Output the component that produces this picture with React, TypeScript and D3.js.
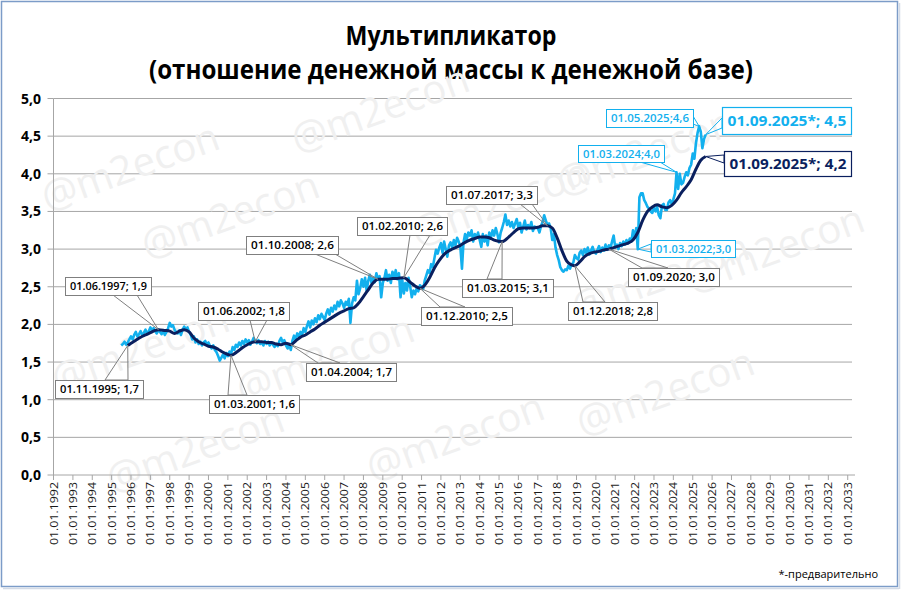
import React from "react";
import * as d3 from "d3";

// ---------- DATA ----------
const titleLines = ["Мультипликатор", "(отношение денежной массы к денежной базе)"];
const footnote = "*-предварительно";
const yTickValues = [0, 0.5, 1, 1.5, 2, 2.5, 3, 3.5, 4, 4.5, 5];
const xTickYears = d3.range(1992, 2034);
const watermarkText = "@m2econ";

// monthly multiplier (light blue), starting 1995-07
const lightStart = "1995-07";
const lightValues = [
  1.72, 1.74, 1.77, 1.73, 1.76, 1.80,
  1.84, 1.80, 1.86, 1.90, 1.84, 1.87, 1.91, 1.86, 1.89, 1.93, 1.88, 1.91,
  1.96, 1.92, 1.95, 1.91, 1.88, 1.93, 1.90, 1.87, 1.91, 1.86, 1.90, 1.95,
  2.02, 1.97, 1.99, 1.93, 1.90, 1.88, 1.92, 1.86, 1.93, 1.97, 1.93, 1.96,
  1.90, 1.86, 1.80, 1.84, 1.76, 1.80, 1.74, 1.77, 1.72, 1.76, 1.78, 1.73,
  1.76, 1.71, 1.68, 1.72, 1.66, 1.63, 1.58, 1.52, 1.56, 1.60, 1.55, 1.62,
  1.58, 1.64, 1.60, 1.70, 1.66, 1.73, 1.70, 1.76, 1.72, 1.78, 1.74, 1.80,
  1.76, 1.79, 1.73, 1.77, 1.82, 1.78, 1.75, 1.79, 1.74, 1.76, 1.72, 1.78,
  1.74, 1.77, 1.72, 1.76, 1.73, 1.70, 1.74, 1.71, 1.78, 1.82, 1.76, 1.79,
  1.72, 1.68, 1.74, 1.66, 1.78, 1.85, 1.80, 1.88, 1.84, 1.90, 1.86, 1.95,
  1.90, 1.98, 2.04, 1.96, 2.05, 2.00, 2.08, 2.03, 2.12, 2.07, 2.14, 2.10,
  2.06, 2.15, 2.20, 2.13, 2.22, 2.17, 2.25, 2.20, 2.30, 2.24, 2.32, 2.28,
  2.22, 2.30, 2.26, 2.34, 2.02, 2.28, 2.36, 2.32, 2.58, 2.40, 2.48, 2.60,
  2.50, 2.62, 2.45, 2.58, 2.66, 2.55, 2.62, 2.56, 2.68, 2.60, 2.64, 2.36,
  2.55, 2.62, 2.72, 2.58, 2.66, 2.55, 2.70, 2.62, 2.72, 2.60, 2.68, 2.36,
  2.60, 2.41, 2.55, 2.45, 2.62, 2.50, 2.36, 2.45, 2.40, 2.48, 2.44, 2.52,
  2.50, 2.47, 2.58, 2.65, 2.72, 2.68, 2.80, 2.76, 2.88, 2.99, 2.94, 3.02,
  3.08, 2.95, 3.10, 3.00, 2.90, 3.05, 3.09, 3.02, 3.12, 3.05, 3.15, 3.10,
  3.04, 2.74, 3.08, 3.20, 3.12, 3.22, 3.18, 3.25, 3.10, 3.20, 3.15, 3.22,
  3.12, 3.03, 3.20, 3.10, 3.18, 3.05, 3.22, 3.15, 3.25, 3.18, 3.28, 3.20,
  3.09, 3.22, 3.28, 3.36, 3.46, 3.32, 3.38, 3.30, 3.36, 3.28, 3.34, 3.40,
  3.28, 3.35, 3.22, 3.30, 3.38, 3.26, 3.32, 3.28, 3.36, 3.24, 3.30, 3.28,
  3.28, 3.22, 3.30, 3.36, 3.45, 3.38, 3.32, 3.34, 3.28, 3.12, 3.20, 3.02,
  2.92, 2.85, 2.76, 2.72, 2.70, 2.73, 2.72, 2.78, 2.74, 2.80, 2.82, 2.92,
  2.88, 2.86, 2.95, 2.98, 2.92, 3.00, 2.95, 3.02, 2.93, 2.98, 3.03, 2.96,
  2.94, 2.99, 3.04, 2.96, 3.02, 2.98, 3.06, 2.99, 3.05, 3.01, 3.10, 3.18,
  3.02, 3.06, 3.00, 3.08, 3.04, 3.10, 3.06, 3.12, 3.08, 3.14, 3.10, 3.25,
  3.15, 3.28, 3.00, 3.69, 3.74, 3.74, 3.65, 3.61, 3.56, 3.54, 3.50, 3.48,
  3.55, 3.50, 3.56, 3.45, 3.41, 3.58, 3.60, 3.52, 3.52, 3.62, 3.65, 3.60,
  3.66, 3.74, 4.02, 3.80, 4.00, 3.86, 3.88, 3.96, 4.02, 3.98, 4.08, 4.12,
  4.27, 4.20, 4.40, 4.54, 4.63, 4.56, 4.34, 4.46, 4.52,
];

// smoothed multiplier (dark navy)
const darkDates = [
  "1995-11", "1996-01", "1996-04", "1996-07", "1996-10", "1997-01", "1997-04", "1997-06", "1997-10",
  "1998-01", "1998-04", "1998-07", "1998-10", "1999-01", "1999-04", "1999-07", "1999-10",
  "2000-01", "2000-04", "2000-07", "2000-10", "2001-01", "2001-03", "2001-07", "2001-10",
  "2002-01", "2002-06", "2002-10", "2003-01", "2003-04", "2003-07", "2003-10",
  "2004-01", "2004-04", "2004-07", "2004-10", "2005-01", "2005-04", "2005-07", "2005-10",
  "2006-01", "2006-04", "2006-07", "2006-10", "2007-01", "2007-04", "2007-07", "2007-10",
  "2008-01", "2008-04", "2008-07", "2008-10", "2009-01", "2009-04", "2009-07", "2009-10",
  "2010-02", "2010-06", "2010-09", "2010-12", "2011-03", "2011-06", "2011-09", "2011-12",
  "2012-03", "2012-07", "2012-10", "2013-01", "2013-04", "2013-07", "2013-10",
  "2014-01", "2014-04", "2014-07", "2014-10", "2015-03", "2015-07", "2015-10",
  "2016-01", "2016-04", "2016-07", "2016-10", "2017-01", "2017-04", "2017-07", "2017-10",
  "2018-01", "2018-04", "2018-07", "2018-10", "2018-12", "2019-03", "2019-06", "2019-09", "2019-12",
  "2020-03", "2020-06", "2020-09", "2020-12", "2021-03", "2021-06", "2021-09", "2021-12",
  "2022-03", "2022-06", "2022-09", "2022-12", "2023-03", "2023-06", "2023-09", "2023-12",
  "2024-03", "2024-06", "2024-09", "2024-12", "2025-03", "2025-06", "2025-09",
];
const darkValues = [
  1.72, 1.75, 1.79, 1.83, 1.86, 1.89, 1.92, 1.93, 1.92,
  1.91, 1.88, 1.91, 1.93, 1.90, 1.82, 1.77, 1.74,
  1.71, 1.70, 1.67, 1.63, 1.60, 1.59, 1.64, 1.69,
  1.73, 1.77, 1.77, 1.76, 1.76, 1.74, 1.73,
  1.75, 1.73, 1.78, 1.83, 1.86, 1.90, 1.94, 1.99,
  2.03, 2.07, 2.11, 2.15, 2.18, 2.21, 2.22, 2.28,
  2.37, 2.46, 2.55, 2.60, 2.60, 2.60, 2.61, 2.61,
  2.62, 2.56, 2.51, 2.48, 2.52, 2.62, 2.75, 2.85,
  2.93, 2.99, 3.02, 3.05, 3.09, 3.12, 3.14,
  3.16, 3.16, 3.15, 3.12, 3.10, 3.16, 3.22,
  3.27, 3.28, 3.28, 3.28, 3.29, 3.31, 3.31, 3.28,
  3.15, 2.98, 2.84, 2.79, 2.78, 2.83, 2.90, 2.94, 2.96,
  2.97, 2.99, 3.00, 3.02, 3.04, 3.06, 3.08, 3.12,
  3.22, 3.38, 3.50, 3.56, 3.59, 3.56, 3.55, 3.58,
  3.65, 3.75, 3.83, 3.92, 4.06, 4.18, 4.23,
];

// callouts: date, series, label
const calloutDates = [
  "1995-11", "1997-06", "2001-03", "2002-06", "2004-04", "2008-10", "2010-02", "2010-12",
  "2015-03", "2017-07", "2018-12", "2020-09", "2022-03", "2024-03", "2025-05", "2025-09", "2025-09",
];
const calloutSeries = [
  "dark", "dark", "dark", "dark", "dark", "dark", "dark", "dark",
  "dark", "dark", "dark", "dark", "light", "light", "light", "light", "dark",
];
const calloutLabels = [
  "01.11.1995; 1,7", "01.06.1997; 1,9", "01.03.2001; 1,6", "01.06.2002; 1,8", "01.04.2004; 1,7",
  "01.10.2008; 2,6", "01.02.2010; 2,6", "01.12.2010; 2,5", "01.03.2015; 3,1", "01.07.2017; 3,3",
  "01.12.2018; 2,8", "01.09.2020; 3,0", "01.03.2022;3,0", "01.03.2024;4,0", "01.05.2025;4,6",
  "01.09.2025*; 4,5", "01.09.2025*; 4,2",
];

// ---------- LAYOUT ----------
const W = 903;
const H = 591;
const LIGHT = "#12b0ee";
const DARK = "#0a1f5e";
const GRID = "#a6a6a6";
const FONT = "'Open Sans', 'Noto Sans', 'DejaVu Sans', sans-serif";

// box [x, y, w, h], wedge base points [x1, y1, x2, y2]
const calloutBoxes = [
  [55, 380, 88, 18], [65, 277, 86, 18], [209, 395, 90, 18], [198, 302, 91, 18], [306, 363, 90, 18],
  [246, 236, 92, 18], [357, 217, 90, 18], [421, 307, 91, 18], [462, 279, 91, 18], [446, 186, 91, 18],
  [568, 302, 89, 18], [628, 268, 91, 18], [651, 240, 84, 17], [578, 145, 86, 17], [606, 109, 87, 18],
  [722, 107, 129, 27], [724, 151, 127, 25],
];
const calloutBases = [
  [105, 380, 128, 380], [113, 295, 137, 295], [228, 395, 247, 395], [250, 320, 267, 320], [318, 363, 340, 363],
  [315, 254, 335, 254], [410, 235, 430, 235], [440, 307, 465, 307], [487, 279, 502, 279], [520, 204, 532, 204],
  [583, 302, 605, 302], [642, 268, 668, 268], [651, 244, 651, 252], [640, 162, 660, 162], [693, 116, 693, 124],
  [722, 118, 722, 128], [724, 155, 724, 163],
];

const watermarkPos = [
  [385, 122], [135, 180], [235, 228], [505, 215], [780, 262], [650, 165],
  [145, 362], [330, 372], [670, 405], [665, 290], [200, 462], [460, 450],
];

const parseYM = (s: string) => {
  const [yy, mm] = s.split("-").map(Number);
  return new Date(yy, mm - 1, 1);
};

type P = { d: Date; v: number };

export default function App() {
  const x = d3
    .scaleTime()
    .domain([new Date(1992, 0, 1), new Date(2033, 3, 1)])
    .range([53.5, 852.5]);
  const y = d3.scaleLinear().domain([0, 5]).range([475, 98.5]);

  const ls = parseYM(lightStart);
  const lightData: P[] = lightValues.map((v, i) => ({
    d: new Date(ls.getFullYear(), ls.getMonth() + i, 1),
    v,
  }));
  const darkData: P[] = darkDates.map((s, i) => ({ d: parseYM(s), v: darkValues[i] }));

  const lineLinear = d3
    .line<P>()
    .x((p) => x(p.d))
    .y((p) => y(p.v));
  const lineSmooth = d3
    .line<P>()
    .x((p) => x(p.d))
    .y((p) => y(p.v))
    .curve(d3.curveMonotoneX);

  const findVal = (series: string, ds: string) => {
    const t = parseYM(ds).getTime();
    const arr = series === "light" ? lightData : darkData;
    const p = arr.find((q) => q.d.getTime() === t);
    return p ? p.v : 0;
  };

  const fmtY = (v: number) => v.toFixed(1).replace(".", ",");
  const plotL = 53.5;
  const plotR = 852;

  return (
    <svg
      width={W}
      height={H}
      style={{ position: "absolute", left: 0, top: 0, background: "#fff" }}
      fontFamily={FONT}
    >
      <rect x={0} y={0} width={W} height={H} fill="#fff" />
      {/* frame */}
      <rect x={1.5} y={1.5} width={896} height={585} fill="none" stroke="#7c9cc8" strokeWidth={1.5} />
      <line x1={3} y1={588.5} x2={899} y2={588.5} stroke="#d4dbe6" strokeWidth={1.5} />
      <line x1={899.5} y1={3} x2={899.5} y2={589} stroke="#d4dbe6" strokeWidth={1.5} />

      {/* title */}
      <text x={451} y={45} textAnchor="middle" fontSize={26} fontWeight="bold" fill="#000"
        textLength={211} lengthAdjust="spacingAndGlyphs">
        {titleLines[0]}
      </text>
      <text x={451} y={79} textAnchor="middle" fontSize={26} fontWeight="bold" fill="#000"
        textLength={604} lengthAdjust="spacingAndGlyphs">
        {titleLines[1]}
      </text>

      {/* gridlines */}
      {yTickValues.map((v) => (
        <g key={"g" + v}>
          {v > 0 && (
            <line x1={plotL} x2={plotR} y1={y(v)} y2={y(v)} stroke={GRID} strokeWidth={1} />
          )}
          <line x1={47.5} x2={plotL} y1={y(v)} y2={y(v)} stroke={GRID} strokeWidth={1} />
          <text x={41} y={y(v) + 5} textAnchor="end" fontSize={14} fontWeight="bold" fill="#000">
            {fmtY(v)}
          </text>
        </g>
      ))}

      {/* watermarks */}
      {watermarkPos.map(([wx, wy], i) => (
        <text
          key={"wm" + i}
          x={wx}
          y={wy}
          textAnchor="middle"
          fontSize={40}
          fill="#f0f0f0"
          transform={`rotate(-20 ${wx} ${wy})`}
        >
          {watermarkText}
        </text>
      ))}

      {/* axes */}
      <line x1={plotL} x2={plotL} y1={y(5)} y2={y(0)} stroke={GRID} strokeWidth={1} />
      <line x1={plotL} x2={plotR + 3} y1={y(0)} y2={y(0)} stroke={GRID} strokeWidth={1} />
      {xTickYears.map((yr) => {
        const xx = x(new Date(yr, 0, 1));
        return (
          <g key={"x" + yr}>
            <line x1={xx} x2={xx} y1={y(0)} y2={y(0) + 5} stroke={GRID} strokeWidth={1} />
            <text
              transform={`translate(${xx + 4},${482}) rotate(-90)`}
              textAnchor="end"
              fontSize={11}
              fill="#1a1a1a"
              textLength={63}
              lengthAdjust="spacingAndGlyphs"
            >
              {`01.01.${yr}`}
            </text>
          </g>
        );
      })}

      {/* series */}
      <path d={lineLinear(lightData) || ""} fill="none" stroke={LIGHT} strokeWidth={2.6} strokeLinejoin="round" />
      <path d={lineSmooth(darkData) || ""} fill="none" stroke={DARK} strokeWidth={3} strokeLinejoin="round" />

      {/* callouts */}
      {calloutLabels.map((lab, i) => {
        const series = calloutSeries[i];
        const tx = x(parseYM(calloutDates[i]));
        const ty = y(findVal(series, calloutDates[i]));
        const [bx, by, bw, bh] = calloutBoxes[i];
        const [x1, y1, x2, y2] = calloutBases[i];
        const big = bh > 20;
        const isLight = series === "light";
        const stroke = isLight ? LIGHT : big ? DARK : "#7f7f7f";
        const txtColor = isLight ? LIGHT : big ? DARK : "#000";
        const fs = big ? 15 : 11;
        return (
          <g key={"c" + i}>
            <polygon points={`${x1},${y1} ${tx},${ty} ${x2},${y2}`} fill="none" stroke={stroke} strokeWidth={1} />
            <rect x={bx + 0.5} y={by + 0.5} width={bw} height={bh} fill="#fff" stroke={stroke} strokeWidth={big ? 1.2 : 1} />
            <text
              x={bx + bw / 2 + 0.5}
              y={by + bh / 2 + fs * 0.36 + 0.5}
              textAnchor="middle"
              fontSize={fs}
              fontWeight={big ? "bold" : 600}
              fill={txtColor}
              textLength={bw - (big ? 10 : 9)}
              lengthAdjust="spacingAndGlyphs"
            >
              {lab}
            </text>
          </g>
        );
      })}

      {/* footnote */}
      <text x={878} y={578} textAnchor="end" fontSize={11} fill="#000">
        {footnote}
      </text>
    </svg>
  );
}
